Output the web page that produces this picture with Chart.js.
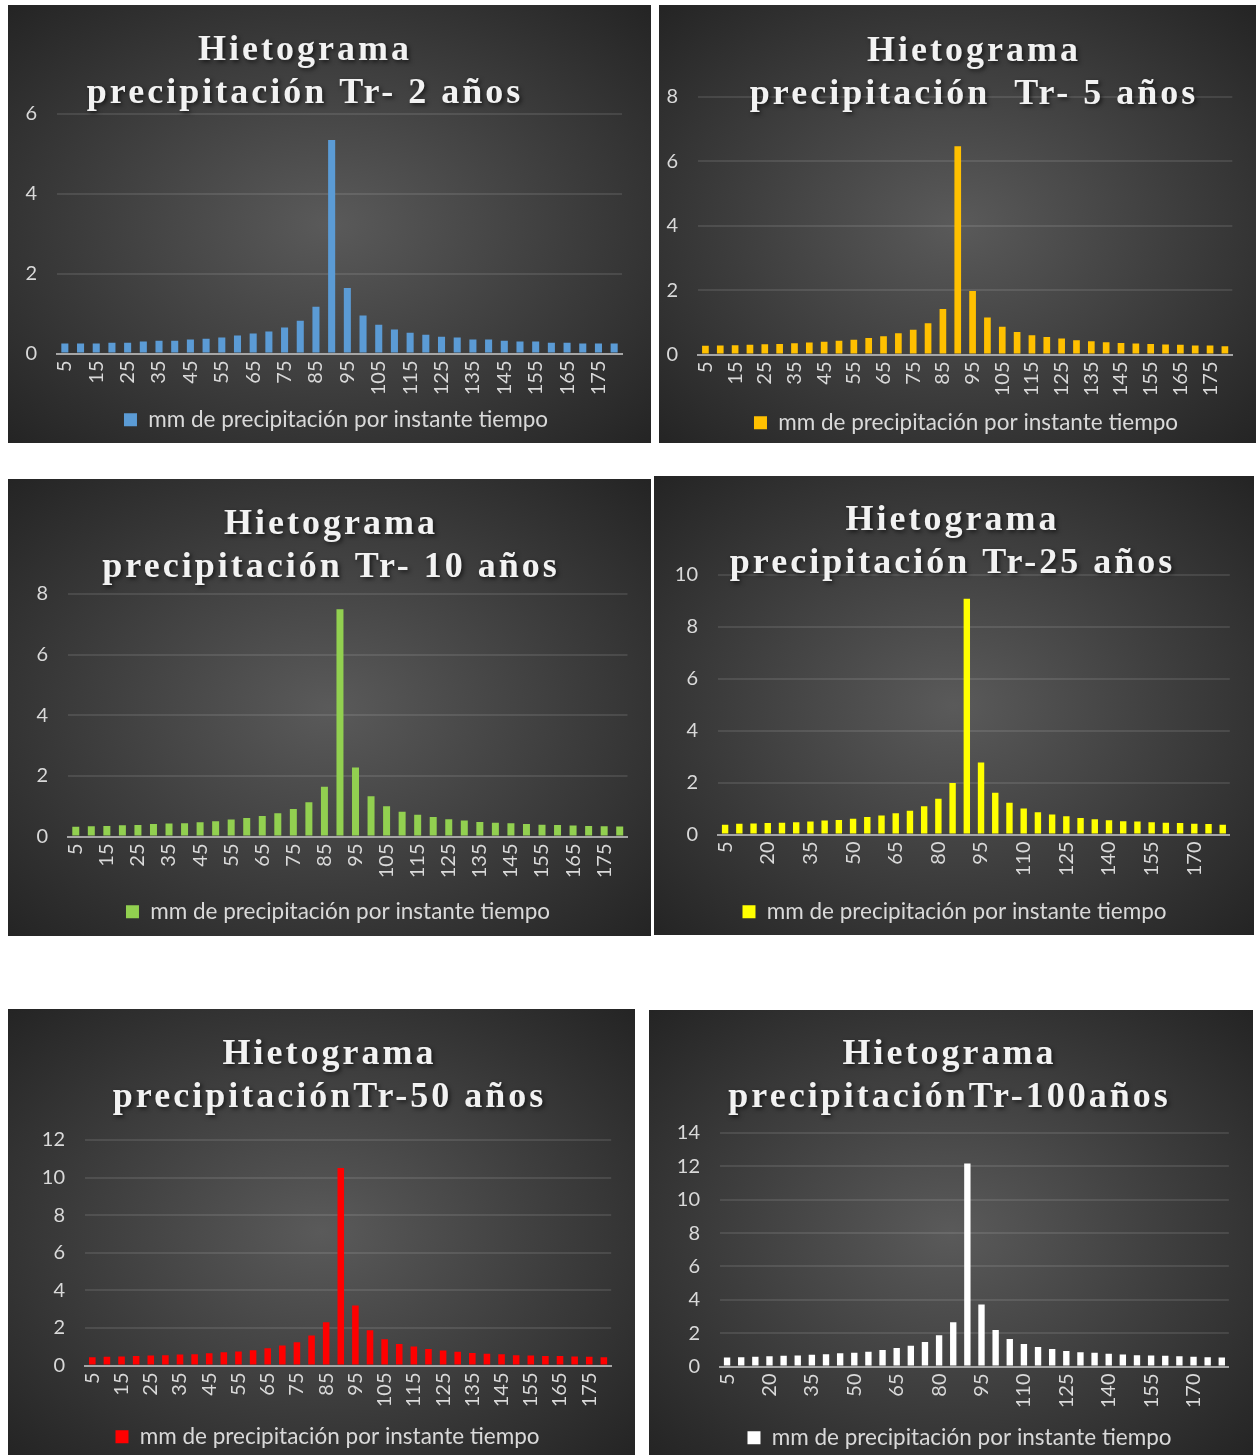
<!DOCTYPE html>
<html lang="es">
<head>
<meta charset="utf-8">
<title>Hietogramas de precipitación</title>
<script src="https://cdn.jsdelivr.net/npm/chart.js@4.4.1/dist/chart.umd.min.js"></script>
<style>
  html, body { margin: 0; padding: 0; background: #fff; }
  body { position: relative; width: 1256px; height: 1455px; overflow: hidden; }
  .panel {
    position: absolute;
    background: radial-gradient(ellipse farthest-corner at 50% 50%, #5a5a5a 0%, #3c3c3c 55%, #242424 100%);
  }
  .panel canvas { display: block; }
</style>
</head>
<body>
<div class="panel" style="left:8px;top:5px;width:643px;height:438px"><canvas id="g2" width="643" height="438"></canvas></div>
<div class="panel" style="left:659px;top:5px;width:597px;height:438px"><canvas id="g5" width="597" height="438"></canvas></div>
<div class="panel" style="left:8px;top:479px;width:643px;height:457px"><canvas id="g10" width="643" height="457"></canvas></div>
<div class="panel" style="left:654px;top:476px;width:600px;height:459px"><canvas id="g25" width="600" height="459"></canvas></div>
<div class="panel" style="left:8px;top:1009px;width:627px;height:446px"><canvas id="g50" width="627" height="446"></canvas></div>
<div class="panel" style="left:649px;top:1010px;width:604px;height:445px"><canvas id="g100" width="604" height="445"></canvas></div>

<script>
// Instantes de tiempo (min)
const tiempos = [5, 10, 15, 20, 25, 30, 35, 40, 45, 50, 55, 60, 65, 70, 75, 80, 85, 90,
                 95, 100, 105, 110, 115, 120, 125, 130, 135, 140, 145, 150, 155, 160, 165, 170, 175, 180];

// mm de precipitación por instante para cada periodo de retorno
const tr2 = [0.25, 0.25, 0.25, 0.27, 0.27, 0.30, 0.32, 0.32, 0.35, 0.37, 0.40, 0.45, 0.50, 0.55, 0.65, 0.82, 1.17, 5.35,
             1.64, 0.95, 0.72, 0.60, 0.52, 0.47, 0.42, 0.40, 0.35, 0.35, 0.32, 0.30, 0.30, 0.27, 0.27, 0.25, 0.25, 0.25];
const tr5 = [0.27, 0.28, 0.29, 0.30, 0.32, 0.33, 0.35, 0.37, 0.40, 0.43, 0.46, 0.51, 0.57, 0.66, 0.77, 0.97, 1.41, 6.47,
             1.97, 1.15, 0.86, 0.70, 0.60, 0.54, 0.50, 0.44, 0.41, 0.38, 0.36, 0.34, 0.33, 0.31, 0.30, 0.28, 0.28, 0.26];
const tr10 = [0.32, 0.34, 0.35, 0.37, 0.38, 0.41, 0.43, 0.44, 0.47, 0.50, 0.56, 0.61, 0.68, 0.77, 0.91, 1.13, 1.64, 7.50,
              2.28, 1.33, 1.00, 0.82, 0.72, 0.64, 0.57, 0.53, 0.48, 0.45, 0.44, 0.41, 0.39, 0.38, 0.36, 0.35, 0.34, 0.33];
const tr25 = [0.38, 0.41, 0.42, 0.44, 0.45, 0.47, 0.50, 0.54, 0.56, 0.61, 0.67, 0.73, 0.82, 0.92, 1.09, 1.38, 1.98, 9.08,
              2.77, 1.61, 1.22, 1.00, 0.86, 0.77, 0.70, 0.64, 0.59, 0.55, 0.51, 0.50, 0.47, 0.45, 0.44, 0.41, 0.40, 0.38];
const tr50 = [0.44, 0.46, 0.48, 0.50, 0.53, 0.55, 0.58, 0.60, 0.65, 0.71, 0.74, 0.81, 0.92, 1.06, 1.24, 1.59, 2.30, 10.51,
              3.19, 1.88, 1.40, 1.15, 1.01, 0.88, 0.80, 0.73, 0.67, 0.62, 0.60, 0.55, 0.53, 0.51, 0.50, 0.48, 0.46, 0.44];
const tr100 = [0.54, 0.56, 0.58, 0.62, 0.64, 0.66, 0.70, 0.74, 0.80, 0.83, 0.89, 0.99, 1.11, 1.25, 1.47, 1.87, 2.66, 12.17,
               3.72, 2.19, 1.65, 1.35, 1.17, 1.05, 0.93, 0.85, 0.82, 0.76, 0.72, 0.68, 0.66, 0.64, 0.62, 0.58, 0.56, 0.54];

const series = [tr2, tr5, tr10, tr25, tr50, tr100];
const etiquetaSerie = 'mm de precipitación por instante tiempo';

const titulos = [
    ['Hietograma', 'precipitación Tr- 2 años'],
    ['Hietograma', 'precipitación  Tr- 5 años'],
    ['Hietograma', 'precipitación Tr- 10 años'],
    ['Hietograma', 'precipitación Tr-25 años'],
    ['Hietograma', 'precipitaciónTr-50 años'],
    ['Hietograma', 'precipitaciónTr-100años']
];

// Escala vertical y cada cuántas categorías se rotula el eje X
const maximosY = [6, 8, 8, 10, 12, 14];
const pasoEtiquetas = [2, 2, 2, 3, 2, 3];

const colores = ['#5B9BD5', '#FFC000', '#92D050', '#FFFF00', '#FF0000', '#FFFFFF'];

// Márgenes de cada gráfica (px dentro del canvas) y desplazamiento del título y la leyenda
const disposicion = [
    { id: 'g2',   izq: 49, der: 29, arriba: 109, eje: 49, abajo: 2,  tituloY: 46, dx: -10, dxLeyenda: 21 },
    { id: 'g5',   izq: 39, der: 7,  arriba: 92,  eje: 51, abajo: -1, tituloY: 47, dx: 20,  dxLeyenda: 12 },
    { id: 'g10',  izq: 60, der: 21, arriba: 115, eje: 58, abajo: 3,  tituloY: 46, dx: 12,  dxLeyenda: 19 },
    { id: 'g25',  izq: 64, der: 19, arriba: 99,  eje: 60, abajo: 2,  tituloY: 45, dx: 8,   dxLeyenda: 10 },
    { id: 'g50',  izq: 77, der: 10, arriba: 131, eje: 54, abajo: -3, tituloY: 46, dx: 13,  dxLeyenda: 11 },
    { id: 'g100', izq: 71, der: 15, arriba: 123, eje: 54, abajo: -4, tituloY: 45, dx: 6,   dxLeyenda: 16 }
];

const fuenteEjes = { family: 'Lato, "Open Sans", sans-serif', size: 20 };
const fuenteLeyenda = { family: 'Lato, "Open Sans", sans-serif', size: 22.5 };
const tamTitulo = 36;

// Envuelve el dibujo de una caja (título o leyenda) con un desplazamiento y ajustes extra
function envolverDibujo(caja, ctx, dx, extra) {
    const dibujar = caja.draw.bind(caja);
    caja.draw = function () {
        ctx.save();
        if (extra) extra(ctx);
        ctx.translate(dx, 0);
        dibujar();
        ctx.restore();
    };
}

// Título con espaciado entre letras y sombra; leyenda algo desplazada
function ajustarCajas(d) {
    return {
        id: 'ajustarCajas',
        afterInit(chart) {
            envolverDibujo(chart.titleBlock, chart.ctx, d.dx, (ctx) => {
                ctx.letterSpacing = '3px';
                ctx.shadowColor = 'rgba(0, 0, 0, 0.6)';
                ctx.shadowBlur = 4;
                ctx.shadowOffsetX = 2;
                ctx.shadowOffsetY = 2;
            });
            envolverDibujo(chart.legend, chart.ctx, d.dxLeyenda);
        }
    };
}

function crearHietograma(i) {
    const d = disposicion[i];
    const altoLinea = tamTitulo * 1.2;
    const margenTitulo = d.tituloY - altoLinea / 2;

    return new Chart(document.getElementById(d.id), {
        type: 'bar',
        data: {
            labels: tiempos,
            datasets: [{
                label: etiquetaSerie,
                data: series[i],
                backgroundColor: colores[i],
                barPercentage: 0.45,
                categoryPercentage: 1
            }]
        },
        options: {
            responsive: false,
            animation: false,
            layout: { padding: { left: 0, right: d.der, top: 0, bottom: d.abajo } },
            scales: {
                x: {
                    grid: { display: false, drawTicks: false },
                    border: { color: '#a6a6a6', width: 2 },
                    ticks: {
                        color: '#d9d9d9',
                        font: fuenteEjes,
                        autoSkip: false,
                        minRotation: 90,
                        maxRotation: 90,
                        padding: 7,
                        callback(valor, idx) {
                            return idx % pasoEtiquetas[i] === 0 ? this.getLabelForValue(valor) : '';
                        }
                    },
                    afterFit(escala) { escala.height = d.eje; }
                },
                y: {
                    min: 0,
                    max: maximosY[i],
                    ticks: { stepSize: 2, color: '#d9d9d9', font: fuenteEjes, padding: 20 },
                    grid: { color: 'rgba(255, 255, 255, 0.1)', lineWidth: 2, drawTicks: false },
                    border: { display: false },
                    afterFit(escala) { escala.width = d.izq; }
                }
            },
            plugins: {
                title: {
                    display: true,
                    text: titulos[i],
                    color: '#f2f2f2',
                    font: { family: '"Liberation Serif", "Times New Roman", serif', size: tamTitulo, weight: 'bold', lineHeight: 1.2 },
                    padding: { top: margenTitulo, bottom: d.arriba - margenTitulo - 2 * altoLinea }
                },
                legend: {
                    position: 'bottom',
                    labels: { color: '#d9d9d9', font: fuenteLeyenda, boxWidth: 13, boxHeight: 13, padding: 6 }
                },
                tooltip: { enabled: false }
            }
        },
        plugins: [ajustarCajas(d)]
    });
}

document.addEventListener('DOMContentLoaded', () => {
    for (let i = 0; i < disposicion.length; i++) {
        crearHietograma(i);
    }
});
</script>
</body>
</html>
